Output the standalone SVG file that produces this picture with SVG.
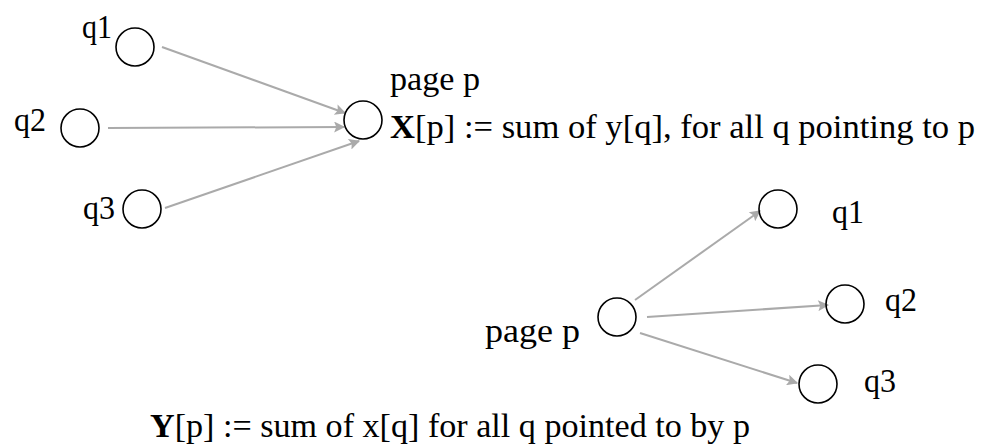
<svg xmlns="http://www.w3.org/2000/svg" width="982" height="448" viewBox="0 0 982 448">
<style>
.n{fill:none;stroke:#000;stroke-width:1.6}
.e{stroke:#aaa;stroke-width:2;fill:none;marker-end:url(#ah)}
text{font-family:"Liberation Serif","Times New Roman",serif;font-size:33px;fill:#000}
</style>
<defs>
<marker id="ah" viewBox="0 0 10 10" refX="9" refY="5" markerWidth="14" markerHeight="11" markerUnits="userSpaceOnUse" orient="auto"><path d="M0,0 L10,5 L0,10 L2,5 z" fill="#aaa"/></marker>
</defs>
<rect width="982" height="448" fill="#fff"/>
<g id="connectors">
<line class="e" x1="162" y1="47" x2="345" y2="113"/>
<line class="e" x1="108" y1="128" x2="344" y2="127"/>
<line class="e" x1="165" y1="208" x2="359" y2="141"/>
<line class="e" x1="635" y1="300" x2="760" y2="211"/>
<line class="e" x1="647" y1="317" x2="828" y2="305"/>
<line class="e" x1="640" y1="333" x2="797" y2="383"/>
</g>
<g id="top-q1"><circle class="n" cx="135" cy="47" r="19"/><text x="82" y="38" textLength="30" lengthAdjust="spacingAndGlyphs">q1</text></g>
<g id="top-q2"><circle class="n" cx="80" cy="128" r="19"/><text x="14" y="131" textLength="32" lengthAdjust="spacingAndGlyphs">q2</text></g>
<g id="top-q3"><circle class="n" cx="142" cy="209" r="19"/><text x="83" y="219" textLength="32" lengthAdjust="spacingAndGlyphs">q3</text></g>
<g id="top-p"><circle class="n" cx="363" cy="120" r="19"/><text x="390" y="90" textLength="90" lengthAdjust="spacingAndGlyphs">page p</text><text x="390" y="138" textLength="585" lengthAdjust="spacingAndGlyphs"><tspan font-weight="bold">X</tspan>[p] := sum of y[q], for all q pointing to p</text></g>
<g id="bot-p"><circle class="n" cx="617" cy="317" r="19"/><text x="485" y="342" textLength="95" lengthAdjust="spacingAndGlyphs">page p</text></g>
<g id="bot-q1"><circle class="n" cx="778" cy="209" r="19"/><text x="832" y="223" textLength="32" lengthAdjust="spacingAndGlyphs">q1</text></g>
<g id="bot-q2"><circle class="n" cx="845" cy="304" r="19"/><text x="885" y="311" textLength="32" lengthAdjust="spacingAndGlyphs">q2</text></g>
<g id="bot-q3"><circle class="n" cx="818" cy="384" r="19"/><text x="864" y="392" textLength="32" lengthAdjust="spacingAndGlyphs">q3</text></g>
<g id="formula"><text x="150" y="437" textLength="600" lengthAdjust="spacingAndGlyphs"><tspan font-weight="bold">Y</tspan>[p] := sum of x[q] for all q pointed to by p</text></g>
</svg>
